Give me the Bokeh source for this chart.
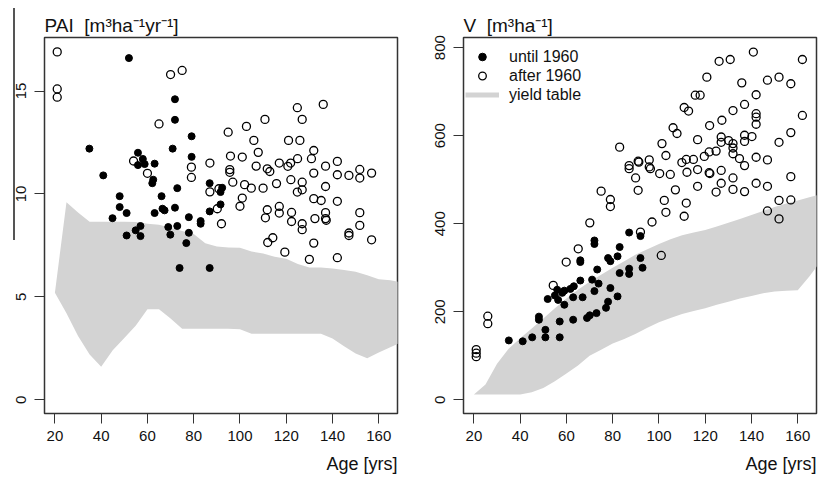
from bokeh.plotting import figure
from bokeh.models import FixedTicker, Legend, LegendItem, Range1d, Title
from bokeh.layouts import row
from bokeh.embed import file_html
from bokeh.resources import INLINE

FONT = "Liberation Sans"
GRAY = "#D3D3D3"

# ---------------- data: PAI panel ----------------
pai_until_age = [52.0, 71.9, 71.9, 79.1, 34.9, 70.9, 79.1, 55.9, 55.9, 58.0, 58.8,
                 63.1, 40.9, 62.5, 62.1, 72.9, 86.9, 92.3, 91.6, 48.0, 66.1, 48.0,
                 51.0, 63.1, 66.5, 67.4, 71.9, 44.9, 77.9, 83.0, 83.0, 86.9, 91.6,
                 54.9, 57.0, 69.0, 72.9, 77.9, 51.0, 57.0, 69.9, 76.8, 73.9, 86.9]
pai_until = [16.6, 14.6, 13.6, 12.8, 12.2, 12.2, 11.8, 12.0, 11.4, 11.7, 11.45,
             11.47, 10.9, 10.69, 10.52, 10.28, 10.52, 10.3, 10.09, 9.89, 9.89, 9.36,
             9.07, 9.07, 9.28, 9.2, 9.33, 8.82, 8.87, 8.68, 8.55, 9.15, 9.49,
             8.23, 8.44, 8.39, 8.44, 8.11, 7.98, 7.95, 8.02, 7.61, 6.4, 6.4]

pai_after_age = [21, 21, 21, 70, 75, 65, 54, 60, 79, 79, 87, 87, 90.9, 90.2, 92,
                 94.9, 95.9, 95.6, 95.6, 96.9, 101, 102.8, 102, 104.9, 101, 100,
                 106, 107.9, 107, 110.8, 110, 111.8, 112.9, 111.8, 111, 117, 115.8,
                 117, 117, 121, 120.7, 121.9, 122, 122.3, 122.3, 124.8, 125.9, 126.9,
                 124.9, 124.8, 126.9, 126.9, 126.9, 126.9, 131.9, 130.9, 131.9, 137,
                 137, 131.9, 135.1, 137, 137, 137.3, 132.4, 136, 142.1, 142.1, 142.1,
                 147.1, 151.8, 151.8, 151.8, 151.8, 156.9, 147.1, 147.1, 112, 114.2,
                 119.4, 131.9, 130, 142.1, 156.9]
pai_after = [16.9, 15.1, 14.7, 15.8, 16.0, 13.4, 11.6, 11.0, 11.3, 10.8, 11.5, 10.1,
             10.25, 9.28, 8.55, 13.0, 11.84, 11.18, 11.05, 10.57, 11.79, 13.28, 10.45,
             10.28, 9.8, 9.4, 12.6, 12.02, 11.35, 13.62, 10.28, 11.22, 11.09, 9.23,
             8.84, 11.5, 10.5, 9.39, 9.07, 12.6, 11.34, 11.5, 10.69, 9.1, 8.66, 14.19,
             12.6, 13.62, 11.71, 10.09, 10.2, 10.57, 8.55, 8.26, 12.11, 11.71, 11.01,
             11.35, 10.36, 9.77, 9.68, 9.09, 8.8, 8.72, 8.8, 14.35, 11.58, 10.93, 9.64,
             10.9, 11.19, 10.77, 9.09, 8.47, 11.01, 7.98, 8.1, 7.64, 7.87, 7.17, 7.61,
             6.82, 6.9, 7.77]

yt_age = [20, 25, 30, 35, 40, 45, 50, 55, 60, 65, 70, 75, 80, 85, 90, 95, 100, 105,
          110, 115, 120, 125, 130, 135, 140, 145, 150, 155, 160, 165, 170]
pai_yt_upper = [5.2, 9.6, 9.1, 8.65, 8.65, 8.65, 8.65, 8.63, 8.55, 8.5, 8.35, 8.2,
                8.05, 7.6, 7.45, 7.4, 7.38, 7.2, 7.1, 6.95, 6.85, 6.6, 6.42, 6.42,
                6.38, 6.3, 6.22, 6.05, 5.85, 5.8, 5.7]
pai_yt_lower = [5.2, 4.2, 3.1, 2.2, 1.6, 2.4, 3.0, 3.6, 4.4, 4.4, 3.95, 3.45, 3.45,
                3.45, 3.45, 3.45, 3.42, 3.2, 3.2, 3.2, 3.2, 3.2, 3.2, 3.2, 2.98, 2.6,
                2.25, 2.02, 2.3, 2.55, 2.8]

# ---------------- data: V panel ----------------
v_until_age = [35.1, 41.1, 45.2, 48.1, 48.1, 50.9, 50.9, 51.9, 57.1, 57.1, 59.1, 55.0,
               56.0, 56.4, 58.2, 59.1, 61.7, 63.2, 62.9, 62.9, 66.0, 66.0, 66.0, 67.0,
               68.9, 70.1, 71.1, 72.1, 72.1, 72.1, 73.0, 73.3, 73.9, 77.1, 78.0, 78.0,
               79.0, 79.0, 82.1, 82.1, 83.0, 83.0, 87.1, 87.1, 87.1, 92.0, 92.0, 92.9]
v_until = [135, 133, 142, 189, 182, 159, 142, 229, 142, 178, 216, 237,
           250, 227, 243, 248, 252, 258, 233, 182, 317, 313, 271, 233,
           186, 192, 273, 362, 354, 247, 197, 296, 264, 209, 223, 322,
           315, 254, 326, 235, 347, 288, 380, 298, 286, 372, 322, 300]

v_after_age = [21, 21, 21, 26, 26, 54.3, 59.9, 65.1, 70.1, 75, 79, 79, 83, 87.1, 87.1,
               91, 91.3, 89.9, 91, 92, 95.8, 95.8, 96.3, 97, 101, 100.3, 101.3, 103,
               102.3, 103, 104.9, 106.1, 107.8, 107.1, 110.9, 112.8, 109.9, 111.8,
               112.1, 111.8, 110.9, 114.9, 116.7, 116.7, 116.7, 115.7, 117.8, 120.7,
               119.6, 121.9, 121.7, 121.7, 122, 124.7, 124.7, 126, 127.2, 126.9, 126.9,
               126.9, 126.9, 130.8, 130.1, 132, 132, 132, 132, 132, 132, 134.8, 135.8,
               137, 137, 137, 137, 137, 140.2, 140.8, 142, 142, 142, 142, 142, 142,
               146.9, 146.9, 146.9, 146.9, 151.9, 151.9, 151.9, 151.9, 157, 157, 157,
               157, 162, 162]
v_after = [114, 106, 98, 190, 173, 260, 313, 343, 402, 474, 455, 439, 574, 532, 525,
           542, 540, 504, 476, 381, 545, 529, 525, 404, 328, 514, 582, 555,
           453, 426, 512, 618, 605, 477, 664, 656, 539, 546,
           517, 447, 417, 546, 591, 523, 485, 692, 692, 733,
           553, 623, 563, 516, 514, 565, 472, 769, 635, 597, 585,
           521, 492, 773, 589, 582, 572, 559, 657, 504, 478, 548, 720,
           671, 601, 587, 532, 473, 598, 790, 693, 650, 642, 626, 551, 492,
           726, 545, 485, 429, 733, 585, 453, 411, 718, 607, 507,
           454, 773, 646]

v_yt_upper = [12, 35, 82, 116, 140, 162, 185, 208, 230, 250, 268, 284, 300, 315, 330,
              342, 354, 365, 374, 380, 386, 394, 402, 411, 420, 429, 438, 446, 453,
              460, 467]
v_yt_lower = [12, 12, 12, 12, 12, 17, 27, 42, 60, 78, 100, 114, 128, 138, 150, 164,
              176, 186, 195, 202, 208, 216, 223, 230, 236, 242, 246, 248, 249, 280, 315]

x_ticks = [20, 40, 60, 80, 100, 120, 140, 160]
pai_ticks = [0, 5, 10, 15]
v_ticks = [0, 200, 400, 600, 800]

NB = "\u00a0"
NAN = float("nan")


def make_fig(title, yr, yticks, border_left, border_right):
    p = figure(frame_width=353, frame_height=376,
               min_border_left=border_left, min_border_right=border_right,
               min_border_top=37, min_border_bottom=64,
               x_range=Range1d(15.5, 168.1), y_range=Range1d(*yr),
               output_backend="svg", toolbar_location=None, title=title)
    p.title.text_font = FONT
    p.title.text_font_size = "19px"
    p.title.text_font_style = "normal"
    p.title.text_color = "#111111"
    p.title.align = "left"
    p.title.offset = 0
    p.title.standoff = 4
    p.outline_line_color = "#333333"
    p.outline_line_width = 1.5
    p.background_fill_color = "white"
    p.border_fill_color = "white"
    p.xgrid.visible = False
    p.ygrid.visible = False
    p.xaxis.ticker = FixedTicker(ticks=x_ticks)
    p.yaxis.ticker = FixedTicker(ticks=yticks)
    for ax in (p.xaxis, p.yaxis):
        ax.axis_line_color = None
        ax.major_tick_in = 0
        ax.major_tick_out = 10
        ax.major_tick_line_color = "#333333"
        ax.minor_tick_line_color = None
        ax.major_label_text_font = FONT
        ax.major_label_text_font_size = "15px"
        ax.major_label_text_color = "#111111"
    p.xaxis.major_label_standoff = 7
    p.yaxis.major_label_standoff = 8
    p.yaxis.major_label_orientation = "vertical"
    p.add_layout(Title(text="Age [yrs]", align="right", text_font=FONT,
                       text_font_size="18px", text_font_style="normal",
                       text_color="#111111", standoff=16, offset=0), "below")
    return p


p1 = make_fig("PAI" + NB + NB + "[m³ha⁻¹yr⁻¹]", (-0.67, 17.6), pai_ticks, 44, 13)
p1.varea(x=yt_age, y1=pai_yt_lower, y2=pai_yt_upper, fill_color=GRAY)
p1.scatter(pai_after_age, pai_after, marker="circle", size=8, fill_color=None,
           line_color="black", line_width=1.3)
p1.scatter(pai_until_age, pai_until, marker="circle", size=7, fill_color="black",
           line_color="black")
p1.stylesheets = [":host::before {content: ''; position: absolute; left: 13px; "
                  "top: 8px; width: 1.5px; height: 232px; background: #555555; "
                  "z-index: 10;}"]

p2 = make_fig("V" + NB + NB + "[m³ha⁻¹]", (-31, 823), v_ticks, 53, 3)
p2.varea(x=yt_age, y1=v_yt_lower, y2=v_yt_upper, fill_color=GRAY)
r_after = p2.scatter(v_after_age, v_after, marker="circle", size=8, fill_color=None,
                     line_color="black", line_width=1.3)
r_until = p2.scatter(v_until_age, v_until, marker="circle", size=7,
                     fill_color="black", line_color="black")
# legend proxy for the yield-table band (drawn as a thick grey line, no visible data)
r_yt = p2.line(x=[NAN, NAN], y=[NAN, NAN], line_color=GRAY, line_width=5)
legend = Legend(items=[LegendItem(label="until 1960", renderers=[r_until]),
                       LegendItem(label="after 1960", renderers=[r_after]),
                       LegendItem(label="yield table", renderers=[r_yt])],
                location=(2, 309), padding=0, margin=0, spacing=0,
                glyph_width=34, glyph_height=19, label_height=19,
                label_standoff=10, label_text_font=FONT,
                label_text_font_size="16px", label_text_color="#111111",
                border_line_color=None, background_fill_alpha=0)
p2.add_layout(legend)

layout = row(p1, p2, spacing=0)
open("out.html", "w").write(file_html(layout, INLINE))
